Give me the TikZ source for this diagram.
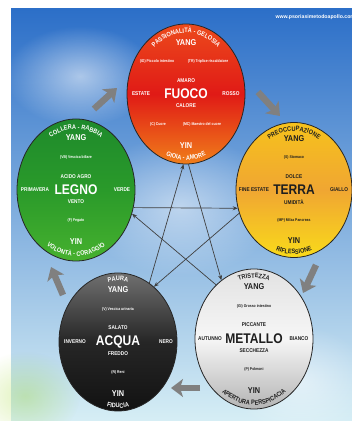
\documentclass[tikz,border=0pt]{standalone}
\usepackage{fontspec}
\setmainfont{Liberation Sans}
\newfontfamily\condfont{Liberation Sans}[FakeStretch=0.86]
\usetikzlibrary{positioning}
\usetikzlibrary{shapes.geometric}
\usetikzlibrary{arrows.meta}
\usetikzlibrary{decorations.text}
\usetikzlibrary{fadings}

\definecolor{skytop}{HTML}{2C6FC8}
\definecolor{skymid}{HTML}{A9D6EF}
\definecolor{skybot}{HTML}{D6EEF5}
\definecolor{fuocotop}{HTML}{EC4A1C}
\definecolor{fuocomid}{HTML}{E01A16}
\definecolor{fuocobot}{HTML}{F07E1A}
\definecolor{terratop}{HTML}{F6C21C}
\definecolor{terramid}{HTML}{F0A632}
\definecolor{terrabot}{HTML}{F9DA1A}
\definecolor{legnotop}{HTML}{1E8A2C}
\definecolor{legnomid}{HTML}{2A9A2A}
\definecolor{legnobot}{HTML}{46B12E}
\definecolor{acquatop}{HTML}{707070}
\definecolor{acquamid}{HTML}{262626}
\definecolor{acquabot}{HTML}{121212}
\definecolor{metallotop}{HTML}{E2E2E2}
\definecolor{metallomid}{HTML}{F6F6F6}
\definecolor{metallobot}{HTML}{B4B4B4}
\definecolor{inkdark}{HTML}{1E1E1E}

\tikzfading[name=fuzzy, inner color=transparent!0, outer color=transparent!100]

\newcommand{\arcfont}{\condfont\bfseries\fontsize{6.5}{6.5}\selectfont}

\tikzset{
	elem/.style={ellipse, draw=black!85, line width=0.8pt, minimum width=118pt, minimum height=140pt, inner sep=0pt},
	elemname/.style={font=\condfont\bfseries\fontsize{14}{14}\selectfont},
	yinyang/.style={font=\condfont\bfseries\fontsize{8.5}{8.5}\selectfont},
	word/.style={font=\condfont\bfseries\fontsize{5.5}{5.5}\selectfont},
	organ/.style={font=\condfont\bfseries\fontsize{4}{4}\selectfont},
	web/.style={font=\bfseries\fontsize{5.2}{5.2}\selectfont, text=white},
	star/.style={-{Stealth[length=5pt,width=4pt]}, line width=0.7pt, draw=black!75},
	blockarrow/.style={-{Stealth[length=12pt,width=18pt,inset=3pt]}, line width=6.5pt, draw=black!50},
}

\begin{document}
\begin{tikzpicture}[x=1pt, y=1pt]
	\useasboundingbox (0,0) rectangle (352,421);
	%% sfondo
	\shade[top color=skytop, middle color=skymid, bottom color=skybot] (11,0) rectangle (352,412);
	\fill[white, opacity=0.55, path fading=fuzzy] (80,345) ellipse[x radius=75, y radius=50];
	\fill[white, opacity=0.5, path fading=fuzzy] (180,215) ellipse[x radius=100, y radius=70];
	\fill[white, opacity=0.5, path fading=fuzzy] (300,40) ellipse[x radius=70, y radius=55];
	\fill[yellow!60!green, opacity=0.3, path fading=fuzzy] (25,25) ellipse[x radius=55, y radius=45];
	\node[web, anchor=west] (w1) at (272,404) {www.psoriasimetodoapollo.com};

	%% fuoco
	\coordinate (f0) at (186,327);
	\node[elem, top color=fuocotop, bottom color=fuocobot, middle color=fuocomid] (fuoco) at (f0) {};
	\begin{scope}[every node/.append style={text=white}]
		\node[elemname] (f1) at (f0) {FUOCO};
		\node[yinyang, above=51pt of f0, anchor=center] (f2) {YANG};
		\node[yinyang, below=52pt of f0, anchor=center] (f3) {YIN};
		\node[word, above=13pt of f0, anchor=center] (f4) {AMARO};
		\node[word, below=12pt of f0, anchor=center] (f5) {CALORE};
		\node[word, left=45pt of f0, anchor=center] (f6) {ESTATE};
		\node[word, right=45pt of f0, anchor=center] (f7) {ROSSO};
		\node[organ, above left=33pt and 29pt of f0, anchor=center] (f8) {(IG) Piccolo intestino};
		\node[organ, above right=33pt and 22pt of f0, anchor=center] (f9) {(TR) Triplice riscaldatore};
		\node[organ, below left=30pt and 28pt of f0, anchor=center] (f10) {(C) Cuore};
		\node[organ, below right=30pt and 16pt of f0, anchor=center] (f11) {(MC) Maestro del cuore};
	\end{scope}
	\path[decorate, decoration={text along path, text align=center, text color=white, text={|\arcfont|PASSIONALITÀ - GELOSIA}}]
		([shift={(0,20)}]f0) ++(170:41) arc[start angle=170, end angle=10, radius=41];
	\path[decorate, decoration={text along path, text align=center, text color=white, text={|\arcfont|GIOIA - AMORE}}]
		([shift={(0,-20)}]f0) ++(190:46) arc[start angle=190, end angle=350, radius=46];

	%% terra
	\coordinate (t0) at (294,231);
	\node[elem, minimum width=116pt, minimum height=135pt, top color=terratop, bottom color=terrabot, middle color=terramid] (terra) at (t0) {};
	\begin{scope}[every node/.append style={text=inkdark}]
		\node[elemname] (t1) at (t0) {TERRA};
		\node[yinyang, above=51pt of t0, anchor=center] (t2) {YANG};
		\node[yinyang, below=51pt of t0, anchor=center] (t3) {YIN};
		\node[word, above=13pt of t0, anchor=center] (t4) {DOLCE};
		\node[word, below=12pt of t0, anchor=center] (t5) {UMIDITÀ};
		\node[word, left=40pt of t0, anchor=center] (t6) {FINE ESTATE};
		\node[word, right=45pt of t0, anchor=center] (t7) {GIALLO};
		\node[organ, above=33pt of t0, anchor=center] (t8) {(S) Stomaco};
		\node[organ, below=30pt of t0, anchor=center] (t9) {(MP) Milza Pancreas};
	\end{scope}
	\path[decorate, decoration={text along path, text align=center, text color=inkdark, text={|\arcfont|PREOCCUPAZIONE}}]
		([shift={(0,18)}]t0) ++(170:41) arc[start angle=170, end angle=10, radius=41];
	\path[decorate, decoration={text along path, text align=center, text color=inkdark, text={|\arcfont|RIFLESSIONE}}]
		([shift={(0,-18)}]t0) ++(190:46) arc[start angle=190, end angle=350, radius=46];

	%% legno
	\coordinate (l0) at (76,231);
	\node[elem, minimum height=142pt, top color=legnotop, bottom color=legnobot, middle color=legnomid] (legno) at (l0) {};
	\begin{scope}[every node/.append style={text=white}]
		\node[elemname] (l1) at (l0) {LEGNO};
		\node[yinyang, above=52pt of l0, anchor=center] (l2) {YANG};
		\node[yinyang, below=52pt of l0, anchor=center] (l3) {YIN};
		\node[word, above=13pt of l0, anchor=center] (l4) {ACIDO AGRO};
		\node[word, below=12pt of l0, anchor=center] (l5) {VENTO};
		\node[word, left=41pt of l0, anchor=center] (l6) {PRIMAVERA};
		\node[word, right=46pt of l0, anchor=center] (l7) {VERDE};
		\node[organ, above=33pt of l0, anchor=center] (l8) {(VB) Vescica biliare};
		\node[organ, below=30pt of l0, anchor=center] (l9) {(F) Fegato};
	\end{scope}
	\path[decorate, decoration={text along path, text align=center, text color=white, text={|\arcfont|COLLERA - RABBIA}}]
		([shift={(0,20)}]l0) ++(170:41) arc[start angle=170, end angle=10, radius=41];
	\path[decorate, decoration={text along path, text align=center, text color=white, text={|\arcfont|VOLONTÀ - CORAGGIO}}]
		([shift={(0,-20)}]l0) ++(190:46) arc[start angle=190, end angle=350, radius=46];

	%% acqua
	\coordinate (a0) at (118,79);
	\node[elem, minimum height=138pt, top color=acquatop, bottom color=acquabot, middle color=acquamid] (acqua) at (a0) {};
	\begin{scope}[every node/.append style={text=white}]
		\node[elemname] (a1) at (a0) {ACQUA};
		\node[yinyang, above=52pt of a0, anchor=center] (a2) {YANG};
		\node[yinyang, below=52pt of a0, anchor=center] (a3) {YIN};
		\node[word, above=14pt of a0, anchor=center] (a4) {SALATO};
		\node[word, below=12pt of a0, anchor=center] (a5) {FREDDO};
		\node[word, left=43pt of a0, anchor=center] (a6) {INVERNO};
		\node[word, right=48pt of a0, anchor=center] (a7) {NERO};
		\node[organ, above=33pt of a0, anchor=center] (a8) {(V) Vescica urinaria};
		\node[organ, below=30pt of a0, anchor=center] (a9) {(R) Reni};
	\end{scope}
	\path[decorate, decoration={text along path, text align=center, text color=white, text={|\arcfont|PAURA}}]
		([shift={(0,20)}]a0) ++(170:41) arc[start angle=170, end angle=10, radius=41];
	\path[decorate, decoration={text along path, text align=center, text color=white, text={|\arcfont|FIDUCIA}}]
		([shift={(0,-20)}]a0) ++(190:46) arc[start angle=190, end angle=350, radius=46];

	%% metallo
	\coordinate (m0) at (254,82);
	\node[elem, top color=metallotop, bottom color=metallobot, middle color=metallomid] (metallo) at (m0) {};
	\begin{scope}[every node/.append style={text=inkdark}]
		\node[elemname] (m1) at (m0) {METALLO};
		\node[yinyang, above=52pt of m0, anchor=center] (m2) {YANG};
		\node[yinyang, below=52pt of m0, anchor=center] (m3) {YIN};
		\node[word, above=14pt of m0, anchor=center] (m4) {PICCANTE};
		\node[word, below=12pt of m0, anchor=center] (m5) {SECCHEZZA};
		\node[word, left=44pt of m0, anchor=center] (m6) {AUTUNNO};
		\node[word, right=45pt of m0, anchor=center] (m7) {BIANCO};
		\node[organ, above=33pt of m0, anchor=center] (m8) {(GI) Grosso intestino};
		\node[organ, below=30pt of m0, anchor=center] (m9) {(P) Polmoni};
	\end{scope}
	\path[decorate, decoration={text along path, text align=center, text color=inkdark, text={|\arcfont|TRISTEZZA}}]
		([shift={(0,20)}]m0) ++(170:41) arc[start angle=170, end angle=10, radius=41];
	\path[decorate, decoration={text along path, text align=center, text color=inkdark, text={|\arcfont|APERTURA PERSPICACIA}}]
		([shift={(0,-20)}]m0) ++(190:46) arc[start angle=190, end angle=350, radius=46];

	% stella
	\draw[star] (legno.-17) -- (terra.198);
	\draw[star] (terra.203) -- (acqua.57);
	\draw[star] (acqua.62) -- (fuoco.268);
	\draw[star] (fuoco.272) -- (metallo.119);
	\draw[star] (metallo.125) -- (legno.-23);

	% frecce del ciclo
	\coordinate (b1) at (94,312); \coordinate (b2) at (117,333);
	\coordinate (b3) at (258,329); \coordinate (b4) at (280,305);
	\coordinate (b5) at (316,156); \coordinate (b6) at (303,128);
	\coordinate (b7) at (200,33); \coordinate (b8) at (171,33);
	\coordinate (b9) at (63,126); \coordinate (b10) at (51,154);
	\draw[blockarrow] (b1) -- (b2);
	\draw[blockarrow] (b3) -- (b4);
	\draw[blockarrow] (b5) -- (b6);
	\draw[blockarrow] (b7) -- (b8);
	\draw[blockarrow] (b9) -- (b10);
\end{tikzpicture}
\end{document}
